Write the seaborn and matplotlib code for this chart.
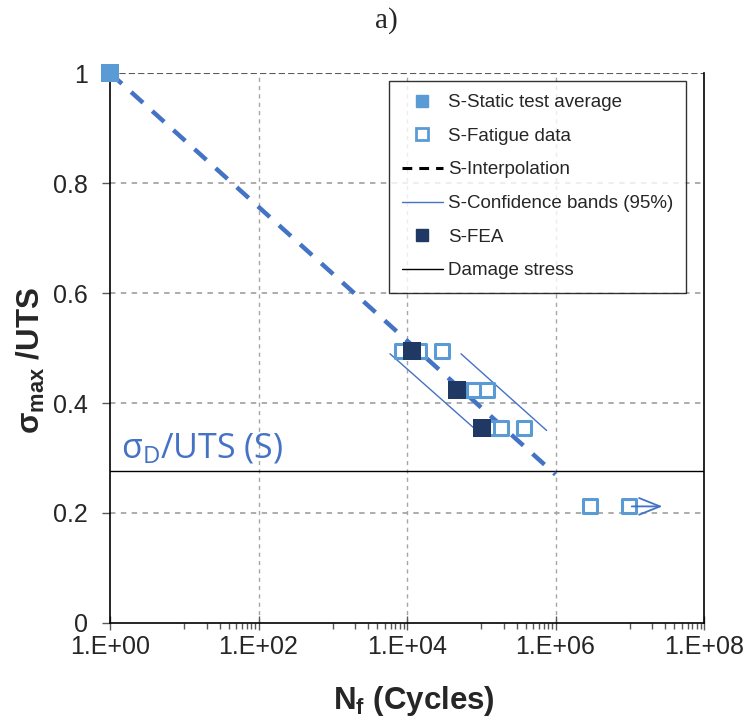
import numpy as np
import pandas as pd
import matplotlib
matplotlib.use("Agg")
import matplotlib.pyplot as plt
import seaborn as sns
from matplotlib.ticker import FixedLocator, NullFormatter
from matplotlib.lines import Line2D

# ---- data ----
static_N = [1.0]
static_s = [1.0]

fatigue_N = [8650, 14660, 29850, 53330, 80540, 120800, 156700, 182800, 376700, 2.92e6, 9.77e6]
fatigue_s = [0.494, 0.494, 0.494, 0.423, 0.423, 0.423, 0.354, 0.354, 0.354, 0.212, 0.212]

fea_N = [11560, 46670, 103300]
fea_s = [0.494, 0.423, 0.354]

interp_N = [1.0, 1.0e6]
interp_s = [1.0, 0.27]

band_low_N = [5900, 86900]
band_low_s = [0.4895, 0.350]
band_up_N = [53330, 760000]
band_up_s = [0.4895, 0.350]

damage_s = 0.276
runout_arrow_N = [9.77e6, 3.0e7]
runout_arrow_s = 0.212

x_ticks = [1e0, 1e2, 1e4, 1e6, 1e8]
x_tick_labels = ["1.E+00", "1.E+02", "1.E+04", "1.E+06", "1.E+08"]
y_ticks = [0, 0.2, 0.4, 0.6, 0.8, 1]
y_tick_labels = ["0", "0.2", "0.4", "0.6", "0.8", "1"]

# ---- style ----
sns.set_style("white")
plt.rcParams["font.family"] = ["Liberation Sans", "DejaVu Sans"]
plt.rcParams["mathtext.fontset"] = "custom"
plt.rcParams["mathtext.rm"] = "Liberation Sans"
plt.rcParams["mathtext.bf"] = "Liberation Sans:bold"

light_blue = "#5B9BD5"
mid_blue = "#4472C4"
navy = "#1F3864"

fig = plt.figure(figsize=(7.46, 7.23), dpi=100)
ax = fig.add_axes([110/746, 1-623/723, (704-110)/746, (623-73)/723])
ax.set_xscale("log")
ax.set_xlim(1, 1e8)
ax.set_ylim(0, 1)

# gridlines
for yv in [0.2, 0.4, 0.6, 0.8]:
    ax.axhline(yv, color="#A6A6A6", lw=1.3, ls=(0, (3, 3)), zorder=0)
ax.axhline(1.0, color="#595959", lw=1.5, ls=(0, (3, 1.5)), zorder=0)
for xv in [1e2, 1e4, 1e6]:
    ax.axvline(xv, color="#A6A6A6", lw=1.0, ls=(0, (3, 3)), zorder=0)

# damage stress
ax.axhline(damage_s, color="black", lw=1.0, zorder=1)

# interpolation
df_i = pd.DataFrame({"N": interp_N, "s": interp_s})
sns.lineplot(data=df_i, x="N", y="s", ax=ax, color=mid_blue, lw=3.2,
             dashes=False, zorder=3)
ax.lines[-1].set_dashes((3.6, 2.8))

# confidence bands
for bn, bs in [(band_low_N, band_low_s), (band_up_N, band_up_s)]:
    sns.lineplot(x=bn, y=bs, ax=ax, color=mid_blue, lw=1.0, zorder=2)

# fatigue data
sns.scatterplot(x=fatigue_N, y=fatigue_s, ax=ax, marker="s", s=110,
                facecolor="white", edgecolor=light_blue, linewidth=2.2, zorder=4)
# runout arrow
ax.annotate("", xy=(runout_arrow_N[1], runout_arrow_s),
            xytext=(runout_arrow_N[0], runout_arrow_s),
            arrowprops=dict(arrowstyle="->,head_length=1.5,head_width=0.6",
                            color=mid_blue, lw=1.3), zorder=5)
# FEA
sns.scatterplot(x=fea_N, y=fea_s, ax=ax, marker="s", s=150,
                color=navy, edgecolor=navy, linewidth=0, zorder=5)
# static
sns.scatterplot(x=static_N, y=static_s, ax=ax, marker="s", s=150,
                color=light_blue, edgecolor=light_blue, linewidth=0, zorder=6, clip_on=False)

# text annotation
ax.text(10 ** ((121 - 110) / 74.25), (623 - 458) / 550, r"σ$_\mathregular{D}$/UTS (S)",
        color=mid_blue, fontsize=24.5, family=["Open Sans", "DejaVu Sans"],
        ha="left", va="baseline", zorder=6)

# axes / ticks
ax.set_xticks(x_ticks)
ax.set_xticklabels(x_tick_labels)
minor_x = [k * 10.0 ** d for d in [1, 3, 5, 7] for k in range(1, 10)]
ax.xaxis.set_minor_locator(FixedLocator(minor_x))
ax.xaxis.set_minor_formatter(NullFormatter())
ax.set_yticks(y_ticks)
ax.set_yticklabels(y_tick_labels)
ax.tick_params(axis="x", which="major", labelsize=18, length=10, width=1,
               color="#595959", direction="inout", pad=4)
ax.tick_params(axis="x", which="minor", length=4.5, width=1, color="#595959",
               direction="out", bottom=True)
ax.tick_params(axis="x", which="major", bottom=True)
ax.tick_params(axis="y", which="major", labelsize=18, length=6, width=1,
               color="#595959", direction="out", pad=10, left=True)

for sp in ["left", "bottom", "right"]:
    ax.spines[sp].set_visible(True)
    ax.spines[sp].set_color("black")
    ax.spines[sp].set_linewidth(1.2)
ax.spines["top"].set_visible(False)

ax.set_xlabel(r"N$_\mathbf{f}$ (Cycles)", fontsize=22.5, fontweight="bold")
ax.xaxis.set_label_coords((414 - 110) / 594, (623 - 684) / 550)
ax.set_ylabel(r"σ$_\mathbf{max}$ /UTS", fontsize=22.5, fontweight="bold")
ax.yaxis.set_label_coords((47 - 110) / 594, (623 - 361) / 550)

# legend
handles = [
    Line2D([], [], ls="none", marker="s", ms=8, mfc=light_blue, mec=light_blue),
    Line2D([], [], ls="none", marker="s", ms=8, mfc="white", mec=light_blue, mew=2),
    Line2D([], [], color="black", lw=2.2, dashes=(3.2, 2.3)),
    Line2D([], [], color=mid_blue, lw=1.0),
    Line2D([], [], ls="none", marker="s", ms=8, mfc=navy, mec=navy),
    Line2D([], [], color="black", lw=1.0),
]
labels = ["S-Static test average", "S-Fatigue data", "S-Interpolation",
          "S-Confidence bands (95%)", "S-FEA", "Damage stress"]
leg = ax.legend(handles, labels, loc="upper right", bbox_to_anchor=(686/746, 1-81/723),
                bbox_transform=fig.transFigure, fontsize=13.5, frameon=True,
                fancybox=False, edgecolor="black", labelspacing=0.88,
                handlelength=2.15, handletextpad=0.27, borderpad=0.7, borderaxespad=0)
leg.get_frame().set_linewidth(1.0)

fig.text(386/746, 1-21/723, "a)", ha="center", va="center", fontsize=21,
         family=["Liberation Serif", "DejaVu Serif"])

fig.savefig("out.png", dpi=100)
